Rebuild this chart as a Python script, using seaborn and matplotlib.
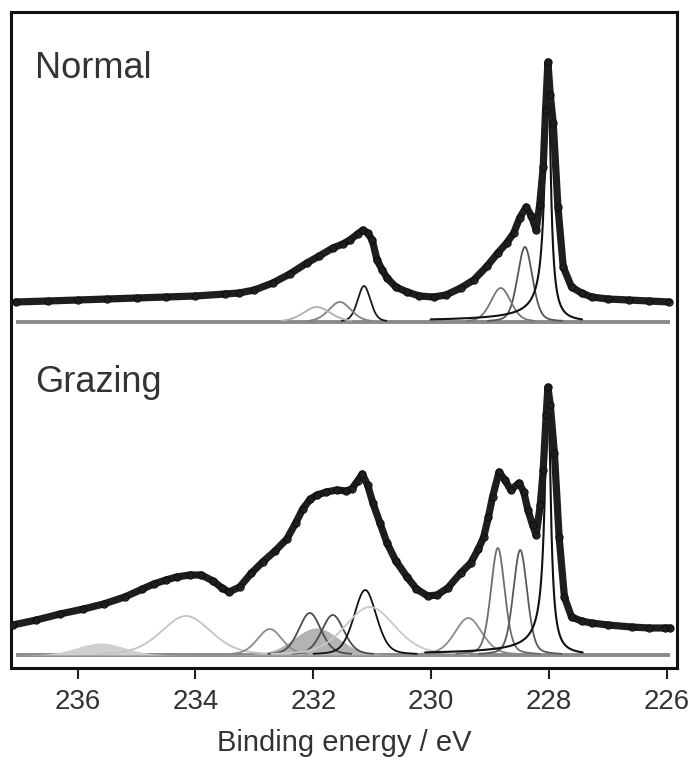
import numpy as np
import pandas as pd
import matplotlib
matplotlib.use("Agg")
import matplotlib.pyplot as plt
import seaborn as sns

# ---- measured spectra (binding energy / eV, counts above the fit baseline) ----
normal_be = [237.05, 236.5, 236.0, 235.5, 235.0, 234.5, 234.0, 233.5, 233.26, 233.0,
             232.69, 232.4, 232.11, 231.9, 231.67, 231.5, 231.38, 231.25, 231.16, 231.08,
             231.0, 230.92, 230.83, 230.75, 230.6, 230.41, 230.2, 229.96, 229.75, 229.5,
             229.28, 229.05, 228.87, 228.72, 228.6, 228.5, 228.39, 228.3, 228.22, 228.16,
             228.1, 228.06, 228.02, 227.98, 227.93, 227.85, 227.76, 227.62, 227.45, 227.28,
             227.0, 226.65, 226.3, 225.97]
normal_counts = [20, 21, 22, 23, 24, 25, 26, 28, 29, 32,
                 39, 48, 59, 66, 74, 78, 82, 88, 92, 89,
                 82, 62, 52, 44, 35, 30, 26, 25, 27, 34,
                 42, 56, 69, 79, 89, 104, 115, 106, 92, 117,
                 155, 212, 260, 227, 199, 115, 55, 35, 29, 25,
                 23, 22, 21, 20]

grazing_be = [237.1, 236.7, 236.3, 235.9, 235.56, 235.2, 234.9, 234.71, 234.5, 234.32,
              234.1, 233.9, 233.7, 233.55, 233.43, 233.25, 233.05, 232.86, 232.65, 232.45,
              232.3, 232.18, 232.05, 231.94, 231.78, 231.6, 231.45, 231.35, 231.25, 231.17,
              231.08, 230.99, 230.87, 230.75, 230.6, 230.41, 230.25, 230.06, 229.9, 229.72,
              229.5, 229.33, 229.2, 229.11, 229.03, 228.96, 228.85, 228.75, 228.65, 228.51,
              228.43, 228.36, 228.28, 228.22, 228.15, 228.1, 228.05, 228.02, 227.98, 227.91,
              227.83, 227.74, 227.62, 227.45, 227.28, 227.0, 226.6, 226.3, 226.04, 225.95]
grazing_counts = [30, 35, 41, 46, 51, 58, 66, 71, 75, 78,
                  80, 80, 74, 67, 63, 68, 82, 93, 104, 116,
                  132, 146, 156, 160, 163, 165, 164, 166, 174, 181,
                  170, 152, 132, 112, 94, 78, 66, 59, 60, 67,
                  82, 92, 106, 118, 138, 158, 183, 175, 165, 172,
                  163, 145, 130, 120, 150, 185, 240, 268, 250, 202,
                  118, 58, 38, 34, 32, 30, 28, 27, 27, 27]

# ---- fitted components ----
# metallic 3d5/2 line (asymmetric)
metal_centre = 228.02
normal_metal_height = 258
grazing_metal_height = 270

normal_centres = [228.41, 228.82, 231.14, 231.55, 231.94]
normal_heights = [75, 34, 36, 20, 15]
normal_fwhm = [0.30, 0.40, 0.26, 0.45, 0.55]
normal_greys = ["#555555", "#777777", "#1a1a1a", "#808080", "#b0b0b0"]

grazing_centres = [234.16, 232.74, 232.06, 231.67, 231.12, 231.04, 229.37, 228.87, 228.49]
grazing_heights = [39, 26, 42, 40, 65, 48, 37, 107, 105]
grazing_fwhm = [1.0, 0.5, 0.45, 0.45, 0.45, 1.0, 0.55, 0.28, 0.28]
grazing_greys = ["#c4c4c4", "#8c8c8c", "#4d4d4d", "#4d4d4d", "#111111",
                 "#c8c8c8", "#8c8c8c", "#6e6e6e", "#5a5a5a"]

grazing_fill_centres = [235.61, 231.95]
grazing_fill_heights = [12, 27]
grazing_fill_fwhm = [0.95, 0.9]
grazing_fill_greys = ["#cfcfcf", "#b3b3b3"]

NORMAL_OFFSET = 346
GRAZING_OFFSET = 13


def pseudo_voigt(e, c, h, w, eta=0.3):
    d = e - c
    g = np.exp(-4 * np.log(2) * d ** 2 / w ** 2)
    l = 1.0 / (1.0 + 4 * d ** 2 / w ** 2)
    return h * (eta * l + (1 - eta) * g)


def doniach(e, c, h, gamma=0.055, alpha=0.08):
    def ds(cc):
        eps = cc - e
        return (np.cos(np.pi * alpha / 2 + (1 - alpha) * np.arctan(eps / gamma))
                / (eps ** 2 + gamma ** 2) ** ((1 - alpha) / 2))
    f = ds(c)
    shift = e[np.argmax(f)] - c
    f = ds(c - shift)
    return h * f / f.max()


def visible(y, cut=1.2):
    # hide the part of a component that lies on the baseline
    y = y.copy()
    y[y < cut] = np.nan
    return y


sns.set_theme(style="white")
plt.rcParams["font.family"] = ["Liberation Sans", "DejaVu Sans"]

fig = plt.figure(figsize=(6.96, 7.76), dpi=100)
ax = fig.add_axes([11 / 696, 1 - 668 / 776, 666 / 696, 656 / 776])

grid = np.linspace(237.05, 225.95, 3000)


def draw_panel(offset, centres, heights, fwhm, greys, metal_h, be, counts,
               fills=None):
    ax.plot([grid[0], grid[-1]], [offset, offset], color="#8a8a8a", lw=2.8,
            solid_capstyle="butt", zorder=1)
    if fills is not None:
        for c, h, w, col in zip(*fills):
            y = pseudo_voigt(grid, c, h, w, 0.1)
            ax.fill_between(grid, offset, offset + y, color=col, lw=0, zorder=1.5)
    for c, h, w, col in zip(centres, heights, fwhm, greys):
        y = visible(pseudo_voigt(grid, c, h, w))
        sns.lineplot(x=grid, y=offset + y, color=col, lw=1.3, ax=ax,
                     sort=False, zorder=2)
    y = visible(doniach(grid, metal_centre, metal_h), cut=2.6)
    sns.lineplot(x=grid, y=offset + y, color="#111111", lw=1.5, ax=ax,
                 sort=False, zorder=2.5)
    df = pd.DataFrame({"be": be, "counts": np.array(counts) + offset})
    sns.lineplot(data=df, x="be", y="counts", color="#1e1e1e", lw=5.2, ax=ax,
                 sort=False, zorder=3)
    ax.plot(df["be"], df["counts"], "o", ms=5, mfc="none", mec="#111111",
            mew=1.0, zorder=4)


draw_panel(NORMAL_OFFSET, normal_centres, normal_heights, normal_fwhm,
           normal_greys, normal_metal_height, normal_be, normal_counts)
draw_panel(GRAZING_OFFSET, grazing_centres, grazing_heights, grazing_fwhm,
           grazing_greys, grazing_metal_height, grazing_be, grazing_counts,
           fills=(grazing_fill_centres, grazing_fill_heights,
                  grazing_fill_fwhm, grazing_fill_greys))

ax.set_xlim(237.13, 225.83)
ax.set_ylim(0, 656)
ax.set_yticks([])
ax.set_xticks([236, 234, 232, 230, 228, 226])
ax.tick_params(axis="x", direction="out", length=8, width=1.5, color="#222222",
               labelsize=20, labelcolor="#333333", pad=7, bottom=True)
for s in ax.spines.values():
    s.set_color("#111111")
    s.set_linewidth(2.2)
ax.set_xlabel("Binding energy / eV", fontsize=21, color="#333333", labelpad=10)
ax.set_ylabel("")

ax.text(0.036, 0.9, "Normal", transform=ax.transAxes, fontsize=26,
        color="#333333", va="baseline", ha="left")
ax.text(0.036, 0.42, "Grazing", transform=ax.transAxes, fontsize=26,
        color="#333333", va="baseline", ha="left")

fig.savefig("out.png", dpi=100)
